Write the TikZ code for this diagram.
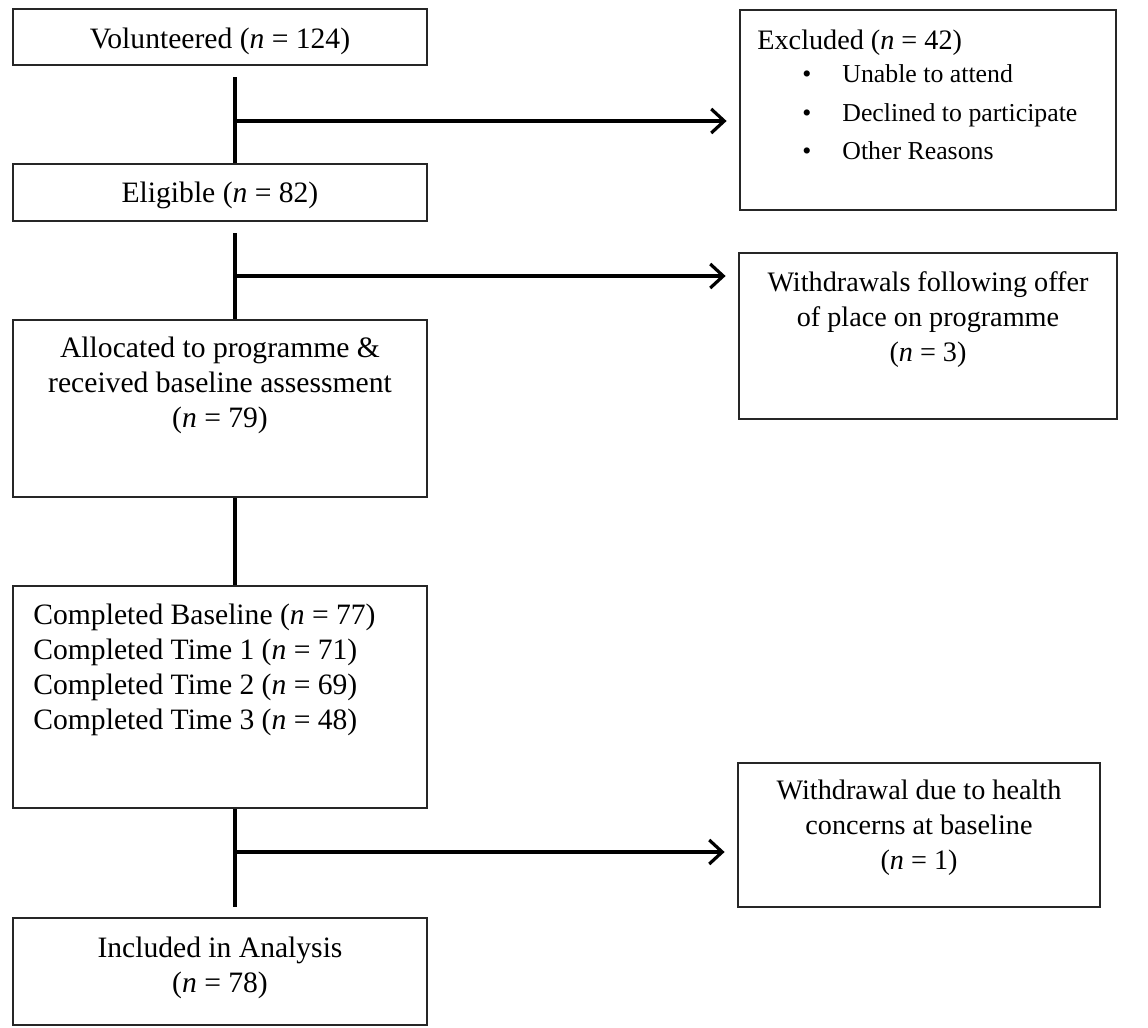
\documentclass[tikz,border=0pt]{standalone}
\usepackage{fontspec}
\setmainfont{Liberation Serif}
\usetikzlibrary{arrows.meta}
\tikzset{
  box/.style={draw=black!85, line width=1.4pt, inner sep=0pt},
  lbox/.style={box, minimum width=207pt},
  txt/.style={font=\fontsize{14.8}{17.5}\selectfont, align=center, inner sep=0pt},
  rtxt/.style={txt, font=\fontsize{14.1}{17.5}\selectfont},
  itemtxt/.style={txt, font=\fontsize{12.9}{15}\selectfont, anchor=base west},
  conn/.style={line width=2pt},
  arr/.style={line width=2pt, -{Straight Barb[length=6.5pt,width=12pt,line width=1.6pt]}, shorten >=6pt},
}
\begin{document}
\begin{tikzpicture}[x=0.5pt, y=-0.5pt]
  \useasboundingbox (0,0) rectangle (1148,1028);
  % left column
  \node[lbox, minimum height=28pt] (vol) at (220,37) {};
  \node[txt, anchor=base] (volT) at (220,48) {Volunteered (\textit{n} = 124)};
  \node[lbox, minimum height=28.5pt] (elig) at (220,192.5) {};
  \node[txt, anchor=base] (eligT) at (220,202) {Eligible (\textit{n} = 82)};
  \node[lbox, minimum height=88.5pt] (alloc) at (220,408.5) {};
  \node[txt] (allocT) at (220,385) {Allocated to programme \&\\received baseline assessment\\(\textit{n} = 79)};
  \node[lbox, minimum height=111pt] (comp) at (220,697) {};
  \node[txt, align=left, anchor=west] (compT) at (33,670) {Completed Baseline (\textit{n} = 77)\\Completed Time 1 (\textit{n} = 71)\\Completed Time 2 (\textit{n} = 69)\\Completed Time 3 (\textit{n} = 48)};
  \node[lbox, minimum height=53.5pt] (incl) at (220,971.5) {};
  \node[txt] (inclT) at (220,968) {Included in Analysis\\(\textit{n} = 78)};
  % right column
  \node[box, minimum width=188pt, minimum height=100pt] (excl) at (928,110) {};
  \node[rtxt, anchor=base west] (exclT) at (757,49) {Excluded (\textit{n} = 42)};
  \foreach \y/\t [count=\i] in {83/Unable to attend, 121/Declined to participate, 159/Other Reasons} {
    \node[itemtxt, anchor=base] (dot\i) at (807,\y) {\textbullet};
    \node[itemtxt] (why\i) at (842,\y) {\t};
  }
  \node[box, minimum width=189pt, minimum height=83pt] (wdr) at (928,336) {};
  \node[rtxt] (wdrT) at (928,320) {Withdrawals following offer\\of place on programme\\(\textit{n} = 3)};
  \node[box, minimum width=181pt, minimum height=72pt] (hlth) at (919,835) {};
  \node[rtxt] (hlthT) at (919,828) {Withdrawal due to health\\concerns at baseline\\(\textit{n} = 1)};
  % connectors
  \coordinate (s1) at (235,77);
  \coordinate (j1) at (235,121);
  \coordinate (s2) at (235,233);
  \coordinate (j2) at (235,276);
  \coordinate (j4) at (235,852);
  \coordinate (e4) at (235,907);
  \draw[conn] (s1) -- (elig.north -| s1);
  \draw[arr] (j1) -- (j1 -| excl.west);
  \draw[conn] (s2) -- (alloc.north -| s2);
  \draw[arr] (j2) -- (j2 -| wdr.west);
  \draw[conn] (alloc.south -| s1) -- (comp.north -| s1);
  \draw[conn] (comp.south -| s1) -- (e4);
  \draw[arr] (j4) -- (j4 -| hlth.west);
\end{tikzpicture}
\end{document}
